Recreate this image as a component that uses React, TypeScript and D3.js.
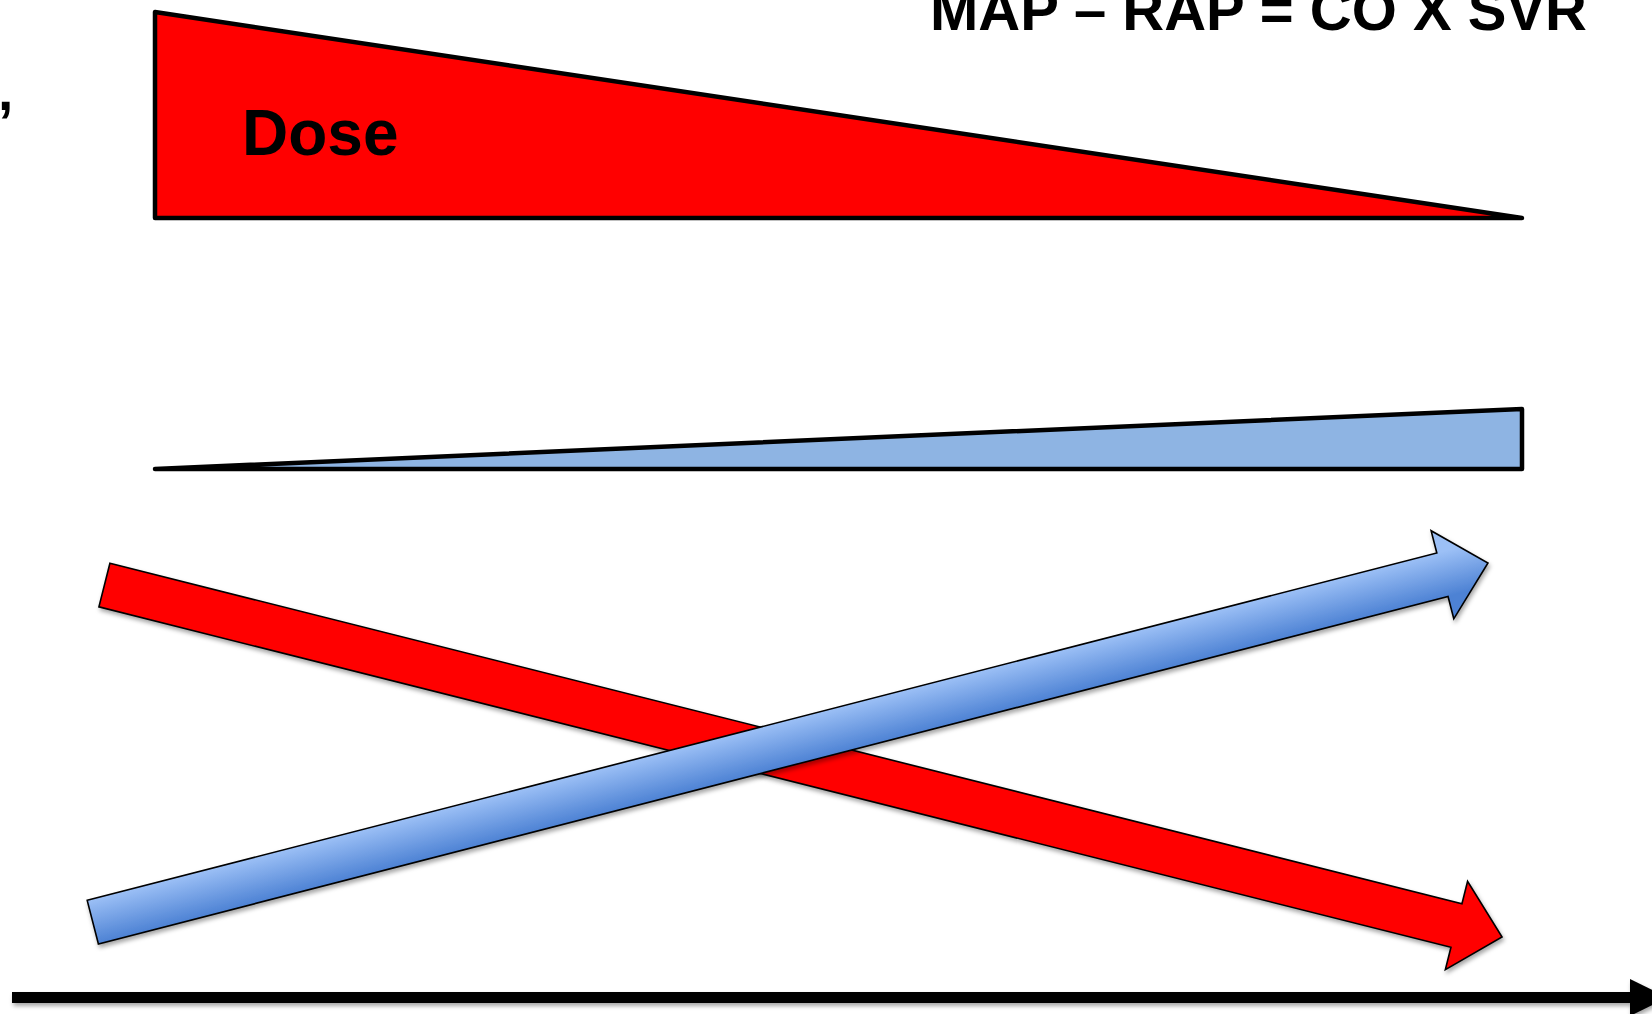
import React from "react";
import * as d3 from "d3";

// ---- data (time runs 0 → 1 along the therapy course) ----
const doseWedge: [number, number][] = [
  [0, 1],
  [0, 0],
  [1, 0],
];
const responseWedge: [number, number][] = [
  [0, 0],
  [1, 1],
  [1, 0],
];
const arrowNames = ["decrease", "increase"];
const arrowFrom: [number, number][] = [
  [-0.037, 0.934],
  [-0.0455, 0.047],
];
const arrowTo: [number, number][] = [
  [0.9854, 0.008],
  [0.9751, 0.992],
];
const labels = ["Dose", "MAP – RAP = CO X SVR", ","];

const W = 1652;
const H = 1014;

export default function App() {
  const x = d3.scaleLinear().domain([0, 1]).range([155, 1522]);
  const yDose = d3.scaleLinear().domain([0, 1]).range([218, 12]);
  const yResp = d3.scaleLinear().domain([0, 1]).range([469, 409]);
  const yArrow = d3.scaleLinear().domain([0, 1]).range([940, 560]);

  const line = d3.line<[number, number]>();

  const dosePath =
    line(doseWedge.map(([t, v]) => [x(t), yDose(v)] as [number, number])) + "Z";
  const respPath =
    line(responseWedge.map(([t, v]) => [x(t), yResp(v)] as [number, number])) + "Z";

  const shaft = 45;
  const headW = 91;
  const headL = 47;

  const arrows = arrowNames.map((name, i) => {
    const ax = x(arrowFrom[i][0]);
    const ay = yArrow(arrowFrom[i][1]);
    const bx = x(arrowTo[i][0]);
    const by = yArrow(arrowTo[i][1]);
    const len = Math.hypot(bx - ax, by - ay);
    const ux = (bx - ax) / len;
    const uy = (by - ay) / len;
    const px = -uy;
    const py = ux;
    const cx = bx - ux * headL;
    const cy = by - uy * headL;
    const pts: [number, number][] = [
      [ax - px * shaft / 2, ay - py * shaft / 2],
      [cx - px * shaft / 2, cy - py * shaft / 2],
      [cx - px * headW / 2, cy - py * headW / 2],
      [bx, by],
      [cx + px * headW / 2, cy + py * headW / 2],
      [cx + px * shaft / 2, cy + py * shaft / 2],
      [ax + px * shaft / 2, ay + py * shaft / 2],
    ];
    const g1 = [ax - px * shaft / 2, ay - py * shaft / 2];
    const g2 = [ax + px * shaft / 2, ay + py * shaft / 2];
    const top = g1[1] < g2[1] ? g1 : g2;
    const bot = g1[1] < g2[1] ? g2 : g1;
    return { name, d: line(pts) + "Z", top, bot };
  });

  const axisY = 997.5;
  const axisX0 = 12;
  const axisX1 = 1630;

  return (
    <svg
      width={W}
      height={H}
      style={{ position: "absolute", left: 0, top: 0, display: "block" }}
      fontFamily="'Liberation Sans', Arial, Helvetica, sans-serif"
    >
      <defs>
        <filter id="shadow" x="-10%" y="-10%" width="120%" height="130%">
          <feDropShadow dx="1.5" dy="3" stdDeviation="2" floodColor="#000" floodOpacity="0.35" />
        </filter>
        {arrows.map((a) => (
          <linearGradient
            key={a.name}
            id={"grad-" + a.name}
            gradientUnits="userSpaceOnUse"
            x1={a.top[0]}
            y1={a.top[1]}
            x2={a.bot[0]}
            y2={a.bot[1]}
          >
            <stop offset="0" stopColor="#9cc0f6" />
            <stop offset="1" stopColor="#4d82d4" />
          </linearGradient>
        ))}
      </defs>
      <rect width={W} height={H} fill="#fff" />

      <path d={dosePath} fill="#ff0000" stroke="#000" strokeWidth={4.5} strokeLinejoin="round" />
      <text x={242} y={155} fontSize={64} fontWeight="bold" fill="#000">
        {labels[0]}
      </text>

      <path d={respPath} fill="#8eb4e3" stroke="#000" strokeWidth={4.5} strokeLinejoin="round" />

      <path
        d={arrows[0].d}
        fill="#ff0000"
        stroke="#000"
        strokeWidth={1.6}
        strokeLinejoin="miter"
        filter="url(#shadow)"
      />
      <path
        d={arrows[1].d}
        fill={"url(#grad-" + arrows[1].name + ")"}
        stroke="#000"
        strokeWidth={1.6}
        strokeLinejoin="miter"
        filter="url(#shadow)"
      />

      <g filter="url(#shadow)">
        <line x1={axisX0} x2={axisX1} y1={axisY} y2={axisY} stroke="#000" strokeWidth={11} />
        <path
          d={`M${axisX1},${axisY - 18.5}L${axisX1 + 38},${axisY}L${axisX1},${axisY + 18.5}Z`}
          fill="#000"
        />
      </g>

      <text x={930} y={29.5} fontSize={58} fontWeight="bold" fill="#000">
        {labels[1]}
      </text>
      <text x={-2} y={110} fontSize={55} fontWeight="bold" fill="#000">
        {labels[2]}
      </text>
    </svg>
  );
}
